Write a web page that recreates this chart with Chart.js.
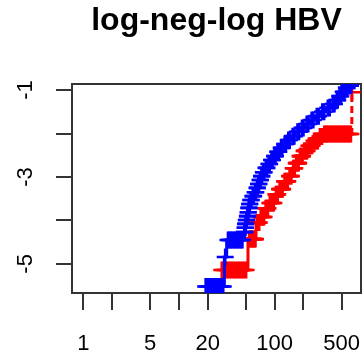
<!DOCTYPE html>
<html>
<head>
<meta charset="utf-8">
<script src="https://cdn.jsdelivr.net/npm/chart.js@4/dist/chart.umd.min.js"></script>
<style>
  html, body { margin: 0; padding: 0; background: #ffffff; overflow: hidden; }
  canvas { display: block; }
</style>
</head>
<body>
<canvas id="c" width="364" height="364"></canvas>
<script>
// Title and axis ticks
const chartTitle = 'log-neg-log HBV';
const xTickValues = [1, 2, 5, 10, 20, 50, 100, 200, 500];
const xTickLabels = ['1', '', '5', '', '20', '', '100', '', '500'];
const yTickValues = [-1, -2, -3, -4, -5];
const yTickLabels = ['-1', '', '-3', '', '-5'];

// Group 1 (blue): event times with the curve level after each event, and censoring times
const blueEventTimes = [
  18.5, 29.8, 31.5, 47.8, 48.9, 49.5, 50.1, 51.4, 52.6, 53.2, 54.5, 55.2, 57.9, 61.5,
  64.5, 66.9, 69.4, 71.9, 74.6, 79.2, 85.1, 90.4, 97.2, 104.4, 113.6, 123.6, 134.4,
  148, 167, 186.1, 207.4, 233.8, 263.8, 301, 343.7, 392.3, 437, 465.3, 505, 549.4, 583.3
];
const blueEventValues = [
  -5.52, -4.84, -4.45, -4.27, -4.17, -4.08, -3.99, -3.90, -3.81, -3.71, -3.62, -3.53, -3.44, -3.35,
  -3.25, -3.16, -3.07, -2.98, -2.89, -2.79, -2.70, -2.61, -2.52, -2.42, -2.33, -2.24, -2.15,
  -2.06, -1.96, -1.87, -1.78, -1.69, -1.60, -1.50, -1.41, -1.32, -1.23, -1.14, -1.04, -0.95, -0.90
];
const blueCensorTimes = [
  19, 19.8, 20.6, 21.4, 22.3, 23.2, 24.1, 25, 26, 27, 28, 29, 30.4,
  32.5, 33.6, 34.8, 36, 37.3, 38.6, 40, 41.4, 42.9, 44.4, 46,
  48.1, 48.6, 49.1, 49.3, 49.7, 49.9, 50.5, 51.0, 51.8, 52.2, 52.8, 53.0, 53.6, 54.1,
  54.7, 55.0, 56.1, 57.0, 59.1, 60.3, 62.5, 63.5, 65.3, 66.1, 67.7, 68.6, 70.2, 71.1,
  72.8, 73.7, 76.1, 77.7, 81.1, 83.1, 86.9, 88.6, 92.6, 94.9, 99.5, 102, 107.4, 110.4,
  116.9, 120.1, 127.1, 130.7, 138.8, 143.3, 154, 160.5, 173, 179.5, 193, 200,
  216, 224.5, 243.5, 253.5, 275.5, 288, 314.5, 329, 359, 375.5, 406.5, 421.5,
  446.5, 456, 478, 491.5, 519.5, 534.5, 560.5, 572, 595, 607, 620
];

// Group 2 (red)
const redEventTimes = [
  27.5, 52.6, 63.8, 70, 79, 87, 101, 110, 124, 140, 153, 165, 180, 198, 222, 250, 290, 320, 640
];
const redEventValues = [
  -5.14, -4.43, -4.05, -3.92, -3.72, -3.60, -3.40, -3.28, -3.10, -2.98, -2.80, -2.68, -2.52,
  -2.40, -2.28, -2.17, -2.07, -2.01, -1.05
];
const redCensorTimes = [
  28, 29.4, 30.9, 32.4, 34, 35.7, 37.5, 39.4, 41.4, 43.5, 45.6, 47.9, 50.3,
  54, 55.5, 57, 58.5, 60, 61.5, 63, 65, 66.3, 67.6, 68.9, 71.5, 73, 74.5, 76, 77.5,
  80.5, 82, 83.5, 85, 89, 91, 93, 95.5, 98, 103, 105, 107.5, 112.5, 115, 118, 121,
  127, 130, 133.5, 137, 143, 146, 149.5, 156, 159, 162, 168, 171.5, 175, 178,
  184, 188, 192, 195.5, 203, 208, 213, 218, 228, 234, 240, 246, 258, 266, 274, 282,
  297, 304, 312, 330, 340, 350, 362, 375, 388, 401, 415, 430, 445, 460, 476, 493,
  510, 528, 547, 566, 586, 606, 626, 643
];

const FONT = "'Liberation Sans', Arial, Helvetica, sans-serif";
const MARK_RADIUS = 8.5;

// Merge events and censorings into one step curve; a censoring mark sits on the current level.
function buildCurve(eventTimes, eventValues, censorTimes) {
  const pts = eventTimes.map((t, i) => ({ x: t, y: eventValues[i], mark: false }));
  censorTimes.forEach(t => {
    let level = null;
    eventTimes.forEach((et, i) => { if (et <= t) level = eventValues[i]; });
    if (level !== null) pts.push({ x: t, y: level, mark: true });
  });
  pts.sort((a, b) => a.x - b.x);
  return pts;
}

function survivalDataset(points, colour, dashedJump) {
  return {
    data: points.map(p => ({ x: p.x, y: p.y })),
    borderColor: colour,
    backgroundColor: colour,
    borderWidth: 3,
    stepped: 'before',
    pointStyle: 'cross',
    pointRadius: points.map(p => (p.mark ? MARK_RADIUS : 0)),
    pointBorderWidth: 2.6,
    pointBorderColor: colour,
    clip: 0,
    segment: {
      borderDash: c => (dashedJump && c.p1.parsed.y - c.p0.parsed.y > 0.8 ? [7, 4] : undefined)
    }
  };
}

// Frame around the plotting region
const framePlugin = {
  id: 'frame',
  beforeDatasetsDraw(chart) {
    const a = chart.chartArea;
    const ctx = chart.ctx;
    ctx.save();
    ctx.strokeStyle = '#333333';
    ctx.lineWidth = 2;
    ctx.strokeRect(a.left, a.top, a.right - a.left, a.bottom - a.top);
    ctx.restore();
  }
};

// Vertical-axis labels written parallel to the axis
const yLabelPlugin = {
  id: 'yLabels',
  afterDraw(chart) {
    const y = chart.scales.y;
    const ctx = chart.ctx;
    ctx.save();
    ctx.fillStyle = '#000000';
    ctx.font = '22px ' + FONT;
    ctx.textAlign = 'center';
    ctx.textBaseline = 'middle';
    yTickValues.forEach((v, i) => {
      if (!yTickLabels[i]) return;
      ctx.save();
      ctx.translate(26, y.getPixelForValue(v));
      ctx.rotate(-Math.PI / 2);
      ctx.fillText(yTickLabels[i], 0, 0);
      ctx.restore();
    });
    ctx.restore();
  }
};

new Chart(document.getElementById('c'), {
  type: 'line',
  data: {
    datasets: [
      survivalDataset(buildCurve(blueEventTimes, blueEventValues, blueCensorTimes), '#0000ff', false),
      survivalDataset(buildCurve(redEventTimes, redEventValues, redCensorTimes), '#ff0000', true)
    ]
  },
  options: {
    responsive: false,
    animation: false,
    events: [],
    layout: { autoPadding: false, padding: { top: 0, right: 3, bottom: 0, left: 0 } },
    plugins: {
      legend: { display: false },
      tooltip: { enabled: false },
      title: {
        display: true,
        text: chartTitle,
        fullSize: false,
        color: '#000000',
        font: { family: FONT, size: 32, weight: 'bold', lineHeight: 1.2 },
        padding: { top: 1.8, bottom: 43.8 }
      }
    },
    scales: {
      x: {
        type: 'logarithmic',
        position: 'bottom',
        min: 0.762,
        max: 798,
        afterBuildTicks: s => { s.ticks = xTickValues.map(v => ({ value: v })); },
        afterFit: s => { s.height = 71; s.paddingLeft = 0; s.paddingRight = 0; },
        border: { display: false },
        grid: {
          drawOnChartArea: false,
          drawTicks: true,
          tickLength: 17,
          tickColor: '#333333',
          tickWidth: 2,
          lineWidth: 2
        },
        ticks: {
          autoSkip: false,
          maxRotation: 0,
          minRotation: 0,
          padding: 21,
          color: '#000000',
          font: { family: FONT, size: 22 },
          callback: v => {
            const i = xTickValues.indexOf(v);
            return i >= 0 ? xTickLabels[i] : '';
          }
        }
      },
      y: {
        type: 'linear',
        position: 'left',
        min: -5.67,
        max: -0.86,
        afterBuildTicks: s => { s.ticks = yTickValues.map(v => ({ value: v })); },
        afterFit: s => { s.width = 72; s.paddingTop = 0; s.paddingBottom = 0; },
        border: { display: false },
        grid: {
          drawOnChartArea: false,
          drawTicks: true,
          tickLength: 16,
          tickColor: '#333333',
          tickWidth: 2,
          lineWidth: 2
        },
        ticks: {
          color: 'rgba(0,0,0,0)',
          font: { family: FONT, size: 22 },
          callback: () => ''
        }
      }
    }
  },
  plugins: [framePlugin, yLabelPlugin]
});
</script>
</body>
</html>
